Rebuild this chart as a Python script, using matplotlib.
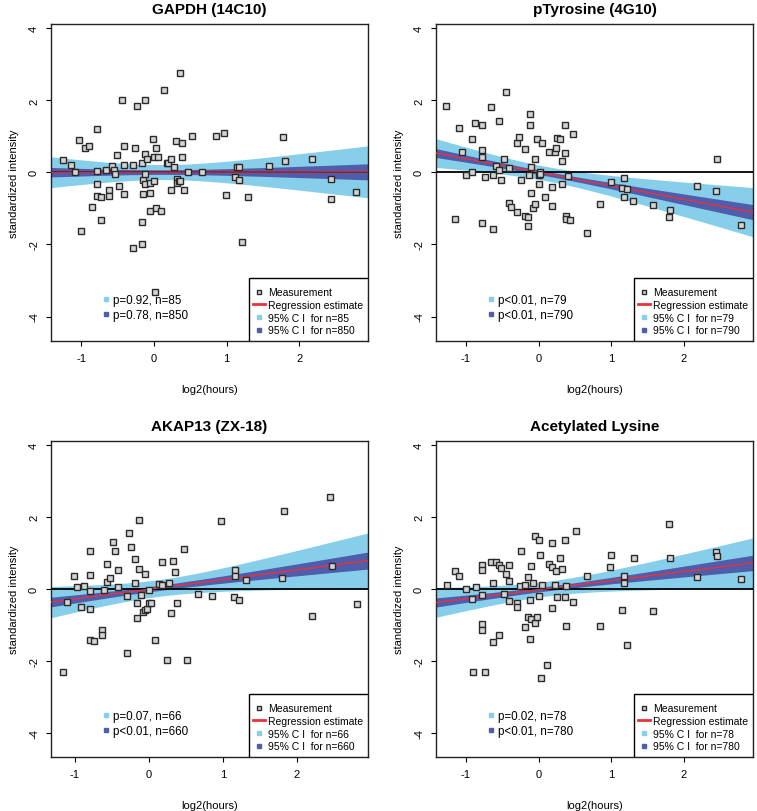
import numpy as np
import matplotlib
matplotlib.use("Agg")
import matplotlib.pyplot as plt
from matplotlib.lines import Line2D
from matplotlib.patches import Rectangle

plt.rcParams['font.family'] = ['Liberation Sans', 'DejaVu Sans']

# data
titles = ["GAPDH (14C10)", "pTyrosine (4G10)", "AKAP13 (ZX-18)", "Acetylated Lysine"]
p_small = ["p=0.92", "p<0.01", "p=0.07", "p=0.02"]
p_big = ["p=0.78", "p<0.01", "p<0.01", "p<0.01"]

gapdh_x = [-1.26, -1.15, -1.09, -1.04, -1.00, -0.95, -0.90, -0.86, -0.78, -0.78,
           -0.78, -0.78, -0.73, -0.73, -0.66, -0.62, -0.62, -0.58, -0.55, -0.54,
           -0.51, -0.48, -0.44, -0.41, -0.41, -0.41, -0.29, -0.29, -0.26, -0.23,
           -0.17, -0.17, -0.17, -0.15, -0.15, -0.12, -0.12, -0.12, -0.12, -0.10,
           -0.06, -0.05, -0.05, -0.02, 0.00, 0.00, 0.03, 0.03, 0.02, 0.05,
           0.10, 0.14, 0.18, 0.19, 0.23, 0.24, 0.27, 0.30, 0.32, 0.32,
           0.35, 0.36, 0.38, 0.38, 0.36, 0.41, 0.47, 0.52, 0.66, 0.85,
           0.97, 0.99, 1.12, 1.15, 1.17, 1.17, 1.21, 1.30, 1.58, 1.78,
           1.81, 2.18, 2.44, 2.44, 2.79]
gapdh_y = [0.34, 0.21, 0.02, 0.89, -1.62, 0.69, 0.73, -0.97, 1.20, 0.04,
           -0.31, -0.66, -0.68, -1.33, 0.06, -0.49, -0.66, 0.19, 0.06, -0.05,
           0.49, -0.39, 2.00, 0.72, 0.21, -0.59, 0.22, -2.10, 0.69, 1.84,
           0.27, -1.38, -1.99, -0.20, -0.61, 2.02, 0.51, -0.04, -0.31, 0.38,
           -0.28, -0.56, -1.07, 0.92, 0.43, -0.24, 0.67, -1.00, -3.31, 0.43,
           -1.07, 2.29, 0.27, 0.25, 0.37, -0.48, 0.16, 0.86, -0.19, -0.30,
           -0.25, 2.76, 0.83, 0.43, -0.24, -0.49, 0.02, 1.01, 0.02, 1.00,
           1.09, -0.64, -0.14, 0.16, 0.16, -0.20, -1.94, -0.69, 0.18, 0.97,
           0.31, 0.36, -0.19, -0.74, -0.54]

ptyr_x = [-1.27, -1.15, -1.10, -1.05, -1.00, -0.91, -0.91, -0.87, -0.78, -0.78,
          -0.78, -0.78, -0.74, -0.66, -0.62, -0.62, -0.59, -0.55, -0.55, -0.51,
          -0.48, -0.45, -0.41, -0.41, -0.38, -0.29, -0.27, -0.29, -0.24, -0.18,
          -0.18, -0.15, -0.15, -0.12, -0.12, -0.13, -0.10, -0.10, -0.08, -0.05,
          -0.05, -0.02, 0.00, 0.00, 0.02, 0.05, 0.09, 0.14, 0.18, 0.18,
          0.22, 0.24, 0.26, 0.29, 0.32, 0.32, 0.36, 0.36, 0.38, 0.38,
          0.41, 0.43, 0.47, 0.66, 0.85, 0.99, 1.15, 1.17, 1.17, 1.21,
          1.30, 1.58, 1.79, 1.81, 2.18, 2.44, 2.46, 2.79, 0.02]
ptyr_y = [1.84, -1.28, 1.22, 0.57, -0.06, 0.94, 0.02, 1.36, 1.31, 0.62,
          0.44, -1.40, -0.14, 1.81, -0.07, -1.56, 0.19, 1.43, 0.06, -0.21,
          0.38, 2.23, 0.11, -0.84, -0.97, 0.81, 0.99, -1.09, -0.20, 0.64,
          -1.21, -1.23, -1.50, 1.61, 1.31, -0.07, 0.14, -0.58, -1.00, 0.37,
          -0.89, 0.92, -0.31, -0.07, 0.00, 0.81, -0.69, 0.56, -0.40, -0.93,
          0.56, 0.69, 0.96, 0.94, 0.31, -0.33, 1.31, 0.53, -1.21, -1.28,
          -0.11, -1.32, 1.08, -1.69, -0.88, -0.27, -0.42, -0.15, -0.67, -0.45,
          -0.79, -0.91, -1.25, -1.03, -0.37, -0.52, 0.36, -1.46, -0.03]

akap_x = [-1.16, -1.11, -1.01, -0.97, -0.92, -0.87, -0.79, -0.79, -0.79, -0.79,
          -0.79, -0.74, -0.63, -0.63, -0.60, -0.56, -0.56, -0.52, -0.49, -0.46,
          -0.42, -0.42, -0.30, -0.30, -0.27, -0.24, -0.19, -0.18, -0.16, -0.16,
          -0.13, -0.13, -0.10, -0.08, -0.05, -0.03, -0.05, 0.00, 0.00, 0.03,
          0.09, 0.14, 0.18, 0.18, 0.24, 0.27, 0.30, 0.32, 0.36, 0.38,
          0.47, 0.52, 0.66, 0.85, 0.98, 1.15, 1.17, 1.17, 1.22, 1.31,
          1.80, 1.82, 2.20, 2.45, 2.47, 2.81]
akap_y = [-2.31, -0.36, 0.35, 0.05, -0.51, 0.08, 1.06, 0.38, -0.07, -0.55,
          -1.43, -1.45, -1.15, -1.28, -0.03, 0.70, 0.18, 0.31, 1.31, 1.06,
          0.53, 0.06, -0.19, -1.79, 1.57, 1.17, 0.82, 0.17, -0.40, -0.82,
          1.91, 0.55, -0.16, -0.64, -0.60, -0.56, 0.42, -0.04, -0.39, -0.40,
          -1.41, 0.14, 0.11, 0.76, -1.97, 0.16, -0.67, 0.79, 0.46, -0.38,
          1.11, -1.97, -0.15, -0.21, 1.90, -0.23, 0.53, 0.36, -0.31, 0.25,
          0.30, 2.17, -0.75, 2.56, 0.65, -0.43]

acly_x = [-1.26, -1.15, -1.10, -1.00, -0.91, -0.90, -0.86, -0.78, -0.78, -0.78,
          -0.78, -0.78, -0.74, -0.66, -0.62, -0.62, -0.59, -0.55, -0.54, -0.51,
          -0.48, -0.45, -0.41, -0.41, -0.41, -0.29, -0.29, -0.26, -0.24, -0.18,
          -0.18, -0.15, -0.15, -0.12, -0.12, -0.10, -0.11, -0.07, -0.05, -0.05,
          -0.02, 0.00, 0.00, 0.02, 0.03, 0.05, 0.12, 0.14, 0.18, 0.18,
          0.18, 0.22, 0.24, 0.26, 0.30, 0.32, 0.36, 0.36, 0.38, 0.38,
          0.47, 0.52, 0.66, 0.85, 0.98, 0.99, 1.15, 1.18, 1.18, 1.21,
          1.31, 1.58, 1.79, 1.81, 2.18, 2.44, 2.46, 2.79]
acly_y = [0.12, 0.50, 0.36, 0.01, -0.27, -2.30, 0.05, 0.66, 0.54, -0.16,
          -0.98, -1.13, -2.30, 0.75, 0.16, -1.48, 0.75, 0.66, -1.28, 0.58,
          -0.15, 0.42, 0.68, 0.21, -0.33, -0.39, -0.51, 0.07, 1.05, 0.11,
          -1.07, 0.34, -0.79, -0.30, -1.39, 0.65, -0.84, 0.17, 1.47, -0.94,
          -0.78, 1.35, -0.19, 0.95, -2.49, 0.12, -2.11, 0.69, 1.27, 0.61,
          -0.52, 0.10, 0.51, -0.22, 0.86, 0.55, 1.36, -0.22, 0.09, -1.02,
          -0.35, 1.62, 0.37, -1.02, 0.61, 0.94, -0.60, 0.36, 0.17, -1.55,
          0.85, -0.61, 1.80, 0.85, 0.32, 1.04, 0.91, 0.27]

xs = [gapdh_x, ptyr_x, akap_x, acly_x]
ys = [gapdh_y, ptyr_y, akap_y, acly_y]
xlims = [(-1.42, 2.95), (-1.41, 2.95), (-1.32, 2.96), (-1.41, 2.95)]

light = '#87CEEB'
dark = '#4F5DAA'
red = '#E8323C'

# axes boxes in figure fraction
boxes = [[0.0674, 0.5788, 0.4188, 0.3904], [0.5760, 0.5788, 0.4188, 0.3904],
         [0.0674, 0.0665, 0.4188, 0.3892], [0.5760, 0.0665, 0.4188, 0.3892]]


# регрессия и 95% интервал
def fit_band(x, y, grid, reps=1, t=1.99):
    xx = np.tile(x, reps)
    yy = np.tile(y, reps)
    n = len(xx)
    b, a = np.polyfit(xx, yy, 1)
    res = yy - (a + b * xx)
    s = np.sqrt(np.sum(res ** 2) / (n - 2))
    sxx = np.sum((xx - xx.mean()) ** 2)
    se = s * np.sqrt(1.0 / n + (grid - xx.mean()) ** 2 / sxx)
    fit = a + b * grid
    return fit, fit - t * se, fit + t * se


fig = plt.figure(figsize=(7.57, 8.12), dpi=100)

for i in range(4):
    ax = fig.add_axes(boxes[i])
    x = np.array(xs[i])
    y = np.array(ys[i])
    n = len(x)
    grid = np.linspace(xlims[i][0], xlims[i][1], 200)
    fit, lo, hi = fit_band(x, y, grid, 1, 1.99)
    _, lo10, hi10 = fit_band(x, y, grid, 10, 1.963)

    ax.fill_between(grid, lo, hi, color=light, lw=0, zorder=1)
    ax.fill_between(grid, lo10, hi10, color=dark, lw=0, zorder=2)
    ax.axhline(0, color='black', lw=1.3, zorder=3)
    ax.plot(grid, fit, color=red, lw=1.0, zorder=4)
    ax.plot(x, y, ls='none', marker='s', ms=4.4, mfc='#d4d4d4', mec='#2a2a2a',
            mew=1.0, zorder=5)

    ax.set_xlim(*xlims[i])
    ax.set_ylim(-4.68, 4.12)
    ax.set_xticks([-1, 0, 1, 2])
    ax.set_xticklabels(['-1', '0', '1', '2'])
    ax.set_yticks([-4, -2, 0, 2, 4])
    ax.set_yticklabels(['-4', '-2', '0', '2', '4'], rotation=90, va='center')
    ax.tick_params(direction='out', length=3.6, width=0.8, labelsize=8, pad=5)
    for sp in ax.spines.values():
        sp.set_linewidth(1.0)
        sp.set_color('#222222')
    ax.set_title(titles[i], fontsize=11, fontweight='bold', pad=8)
    ax.set_xlabel('log2(hours)', fontsize=8, labelpad=15)
    ax.set_ylabel('standardized intensity', fontsize=8, labelpad=7)

    # рамка легенды
    ax.add_patch(Rectangle((0.625, 0), 0.375, 0.198, transform=ax.transAxes,
                           fc='white', ec='black', lw=1.0, zorder=9))
    h1 = [Line2D([], [], ls='none', marker='s', ms=3.4, mfc='#d4d4d4', mec='#2a2a2a', mew=1.0),
          Line2D([], [], color=red, lw=2),
          Line2D([], [], ls='none', marker='s', ms=2.5, color=light),
          Line2D([], [], ls='none', marker='s', ms=2.5, color=dark)]
    l1 = ['Measurement', 'Regression estimate',
          f'95% C I  for n={n}', f'95% C I  for n={n * 10}']
    leg = ax.legend(h1, l1, loc='lower right', bbox_to_anchor=(1.0, 0.003),
                    borderaxespad=0, frameon=False, fontsize=7.5,
                    handlelength=1.15, handletextpad=0.3, labelspacing=0.26,
                    borderpad=0.45)
    leg.set_zorder(10)
    ax.add_artist(leg)

    h2 = [Line2D([], [], ls='none', marker='s', ms=2.5, color=light),
          Line2D([], [], ls='none', marker='s', ms=2.5, color=dark)]
    l2 = [f'{p_small[i]}, n={n}', f'{p_big[i]}, n={n * 10}']
    ax.legend(h2, l2, loc='lower left', bbox_to_anchor=(0.151, 0.047),
              frameon=False, fontsize=8.4, handlelength=0.5,
              handletextpad=0.35, labelspacing=0.32, borderaxespad=0)

fig.savefig('out.png', dpi=100)
